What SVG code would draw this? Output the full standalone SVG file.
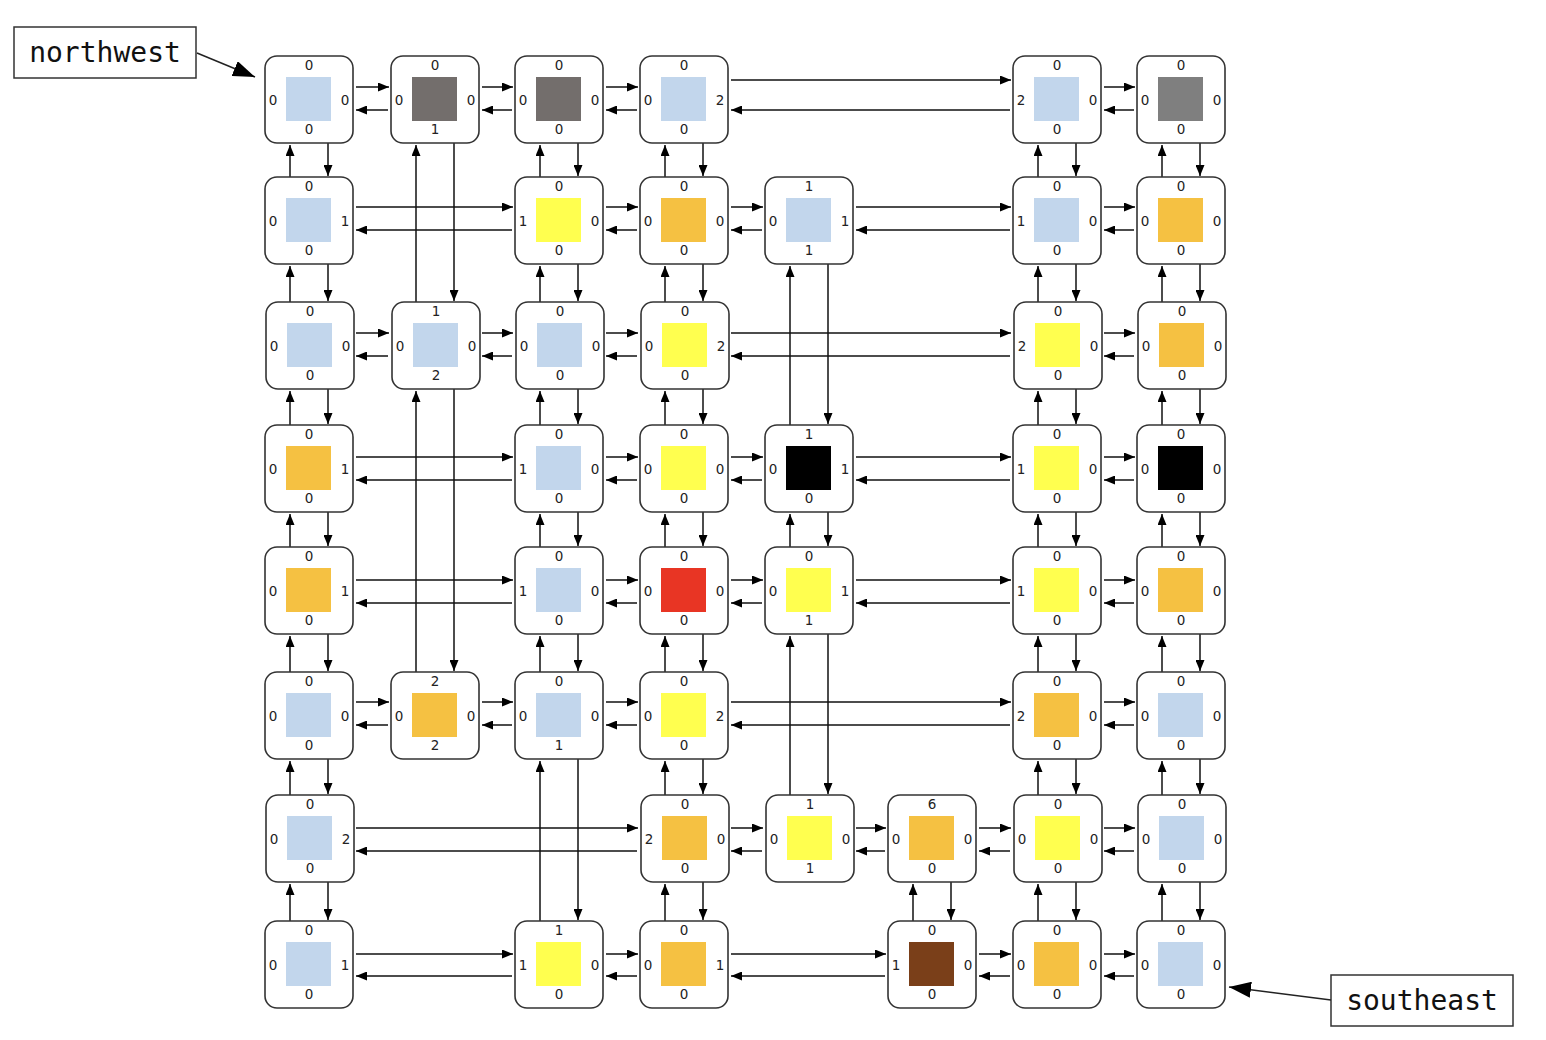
<svg xmlns="http://www.w3.org/2000/svg" width="1546" height="1040" viewBox="0 0 1546 1040">
<style>
.box{fill:#fff;stroke:#333;stroke-width:1.6}
.lb{font-family:"DejaVu Sans",sans-serif;font-size:13.5px;fill:#222;text-anchor:middle}
.call{font-family:"DejaVu Sans Mono",monospace;font-size:28px;fill:#111;text-anchor:middle}
.cbox{fill:#fff;stroke:#333;stroke-width:1.5}
.b{fill:#C2D6EC}.y{fill:#FFFF4F}.o{fill:#F5C142}.g{fill:#736E6C}.g2{fill:#7F7F7F}.r{fill:#E83524}.k{fill:#000}.br{fill:#7A3F19}
#connectors path{fill:none;stroke:#111;stroke-width:1.5;marker-end:url(#ah)}
.cl{fill:none;stroke:#222;stroke-width:1.5;marker-end:url(#big)}
</style>
<defs>
<marker id="ah" markerWidth="11" markerHeight="9" refX="11" refY="4.5" orient="auto" markerUnits="userSpaceOnUse"><path d="M0,0L11,4.5L0,9z" fill="#000"/></marker>
<marker id="big" markerWidth="22" markerHeight="16" refX="22" refY="8" orient="auto" markerUnits="userSpaceOnUse"><path d="M0,0L22,8L0,16z" fill="#000"/></marker>
</defs>
<rect width="1546" height="1040" fill="#fff"/>
<g id="connectors">
<path d="M356 87H389"/><path d="M388 110H356"/>
<path d="M482 87H513"/><path d="M512 110H482"/>
<path d="M606 87H638"/><path d="M637 110H606"/>
<path d="M731 80H1011"/><path d="M1010 110H731"/>
<path d="M1104 87H1135"/><path d="M1134 110H1104"/>
<path d="M356 207H513"/><path d="M512 230H356"/>
<path d="M606 207H638"/><path d="M637 230H606"/>
<path d="M731 207H763"/><path d="M762 230H731"/>
<path d="M856 207H1011"/><path d="M1010 230H856"/>
<path d="M1104 207H1135"/><path d="M1134 230H1104"/>
<path d="M356 333H389"/><path d="M388 356H356"/>
<path d="M482 333H513"/><path d="M512 356H482"/>
<path d="M606 333H638"/><path d="M637 356H606"/>
<path d="M731 333H1011"/><path d="M1010 356H731"/>
<path d="M1104 333H1135"/><path d="M1134 356H1104"/>
<path d="M356 457H513"/><path d="M512 480H356"/>
<path d="M606 457H638"/><path d="M637 480H606"/>
<path d="M731 457H763"/><path d="M762 480H731"/>
<path d="M856 457H1011"/><path d="M1010 480H856"/>
<path d="M1104 457H1135"/><path d="M1134 480H1104"/>
<path d="M356 580H513"/><path d="M512 603H356"/>
<path d="M606 580H638"/><path d="M637 603H606"/>
<path d="M731 580H763"/><path d="M762 603H731"/>
<path d="M856 580H1011"/><path d="M1010 603H856"/>
<path d="M1104 580H1135"/><path d="M1134 603H1104"/>
<path d="M356 702H389"/><path d="M388 725H356"/>
<path d="M482 702H513"/><path d="M512 725H482"/>
<path d="M606 702H638"/><path d="M637 725H606"/>
<path d="M731 702H1011"/><path d="M1010 725H731"/>
<path d="M1104 702H1135"/><path d="M1134 725H1104"/>
<path d="M356 828H638"/><path d="M637 851H356"/>
<path d="M731 828H763"/><path d="M762 851H731"/>
<path d="M856 828H886"/><path d="M885 851H856"/>
<path d="M979 828H1011"/><path d="M1010 851H979"/>
<path d="M1104 828H1135"/><path d="M1134 851H1104"/>
<path d="M356 954H513"/><path d="M512 976H356"/>
<path d="M606 954H638"/><path d="M637 976H606"/>
<path d="M731 954H886"/><path d="M885 976H731"/>
<path d="M979 954H1011"/><path d="M1010 976H979"/>
<path d="M1104 954H1135"/><path d="M1134 976H1104"/>
<path d="M290 177V145"/><path d="M328 143V176"/>
<path d="M290 302V266"/><path d="M328 264V301"/>
<path d="M290 425V391"/><path d="M328 389V424"/>
<path d="M290 547V514"/><path d="M328 512V546"/>
<path d="M290 672V636"/><path d="M328 634V671"/>
<path d="M290 795V761"/><path d="M328 759V794"/>
<path d="M290 921V884"/><path d="M328 882V920"/>
<path d="M416 302V145"/><path d="M454 143V301"/>
<path d="M416 672V391"/><path d="M454 389V671"/>
<path d="M540 177V145"/><path d="M578 143V176"/>
<path d="M540 302V266"/><path d="M578 264V301"/>
<path d="M540 425V391"/><path d="M578 389V424"/>
<path d="M540 547V514"/><path d="M578 512V546"/>
<path d="M540 672V636"/><path d="M578 634V671"/>
<path d="M540 921V761"/><path d="M578 759V920"/>
<path d="M665 177V145"/><path d="M703 143V176"/>
<path d="M665 302V266"/><path d="M703 264V301"/>
<path d="M665 425V391"/><path d="M703 389V424"/>
<path d="M665 547V514"/><path d="M703 512V546"/>
<path d="M665 672V636"/><path d="M703 634V671"/>
<path d="M665 795V761"/><path d="M703 759V794"/>
<path d="M665 921V884"/><path d="M703 882V920"/>
<path d="M790 425V266"/><path d="M828 264V424"/>
<path d="M790 547V514"/><path d="M828 512V546"/>
<path d="M790 795V636"/><path d="M828 634V794"/>
<path d="M913 921V884"/><path d="M951 882V920"/>
<path d="M1038 177V145"/><path d="M1076 143V176"/>
<path d="M1038 302V266"/><path d="M1076 264V301"/>
<path d="M1038 425V391"/><path d="M1076 389V424"/>
<path d="M1038 547V514"/><path d="M1076 512V546"/>
<path d="M1038 672V636"/><path d="M1076 634V671"/>
<path d="M1038 795V761"/><path d="M1076 759V794"/>
<path d="M1038 921V884"/><path d="M1076 882V920"/>
<path d="M1162 177V145"/><path d="M1200 143V176"/>
<path d="M1162 302V266"/><path d="M1200 264V301"/>
<path d="M1162 425V391"/><path d="M1200 389V424"/>
<path d="M1162 547V514"/><path d="M1200 512V546"/>
<path d="M1162 672V636"/><path d="M1200 634V671"/>
<path d="M1162 795V761"/><path d="M1200 759V794"/>
<path d="M1162 921V884"/><path d="M1200 882V920"/>
</g>
<g id="n00" transform="translate(265,56)"><rect class="box" width="88" height="87" rx="12"/><rect class="b" x="21" y="21" width="45" height="44"/><text class="lb" x="44" y="14">0</text><text class="lb" x="44" y="78">0</text><text class="lb" x="8" y="49">0</text><text class="lb" x="80" y="49">0</text></g>
<g id="n01" transform="translate(391,56)"><rect class="box" width="88" height="87" rx="12"/><rect class="g" x="21" y="21" width="45" height="44"/><text class="lb" x="44" y="14">0</text><text class="lb" x="44" y="78">1</text><text class="lb" x="8" y="49">0</text><text class="lb" x="80" y="49">0</text></g>
<g id="n02" transform="translate(515,56)"><rect class="box" width="88" height="87" rx="12"/><rect class="g" x="21" y="21" width="45" height="44"/><text class="lb" x="44" y="14">0</text><text class="lb" x="44" y="78">0</text><text class="lb" x="8" y="49">0</text><text class="lb" x="80" y="49">0</text></g>
<g id="n03" transform="translate(640,56)"><rect class="box" width="88" height="87" rx="12"/><rect class="b" x="21" y="21" width="45" height="44"/><text class="lb" x="44" y="14">0</text><text class="lb" x="44" y="78">0</text><text class="lb" x="8" y="49">0</text><text class="lb" x="80" y="49">2</text></g>
<g id="n06" transform="translate(1013,56)"><rect class="box" width="88" height="87" rx="12"/><rect class="b" x="21" y="21" width="45" height="44"/><text class="lb" x="44" y="14">0</text><text class="lb" x="44" y="78">0</text><text class="lb" x="8" y="49">2</text><text class="lb" x="80" y="49">0</text></g>
<g id="n07" transform="translate(1137,56)"><rect class="box" width="88" height="87" rx="12"/><rect class="g2" x="21" y="21" width="45" height="44"/><text class="lb" x="44" y="14">0</text><text class="lb" x="44" y="78">0</text><text class="lb" x="8" y="49">0</text><text class="lb" x="80" y="49">0</text></g>
<g id="n10" transform="translate(265,177)"><rect class="box" width="88" height="87" rx="12"/><rect class="b" x="21" y="21" width="45" height="44"/><text class="lb" x="44" y="14">0</text><text class="lb" x="44" y="78">0</text><text class="lb" x="8" y="49">0</text><text class="lb" x="80" y="49">1</text></g>
<g id="n12" transform="translate(515,177)"><rect class="box" width="88" height="87" rx="12"/><rect class="y" x="21" y="21" width="45" height="44"/><text class="lb" x="44" y="14">0</text><text class="lb" x="44" y="78">0</text><text class="lb" x="8" y="49">1</text><text class="lb" x="80" y="49">0</text></g>
<g id="n13" transform="translate(640,177)"><rect class="box" width="88" height="87" rx="12"/><rect class="o" x="21" y="21" width="45" height="44"/><text class="lb" x="44" y="14">0</text><text class="lb" x="44" y="78">0</text><text class="lb" x="8" y="49">0</text><text class="lb" x="80" y="49">0</text></g>
<g id="n14" transform="translate(765,177)"><rect class="box" width="88" height="87" rx="12"/><rect class="b" x="21" y="21" width="45" height="44"/><text class="lb" x="44" y="14">1</text><text class="lb" x="44" y="78">1</text><text class="lb" x="8" y="49">0</text><text class="lb" x="80" y="49">1</text></g>
<g id="n16" transform="translate(1013,177)"><rect class="box" width="88" height="87" rx="12"/><rect class="b" x="21" y="21" width="45" height="44"/><text class="lb" x="44" y="14">0</text><text class="lb" x="44" y="78">0</text><text class="lb" x="8" y="49">1</text><text class="lb" x="80" y="49">0</text></g>
<g id="n17" transform="translate(1137,177)"><rect class="box" width="88" height="87" rx="12"/><rect class="o" x="21" y="21" width="45" height="44"/><text class="lb" x="44" y="14">0</text><text class="lb" x="44" y="78">0</text><text class="lb" x="8" y="49">0</text><text class="lb" x="80" y="49">0</text></g>
<g id="n20" transform="translate(266,302)"><rect class="box" width="88" height="87" rx="12"/><rect class="b" x="21" y="21" width="45" height="44"/><text class="lb" x="44" y="14">0</text><text class="lb" x="44" y="78">0</text><text class="lb" x="8" y="49">0</text><text class="lb" x="80" y="49">0</text></g>
<g id="n21" transform="translate(392,302)"><rect class="box" width="88" height="87" rx="12"/><rect class="b" x="21" y="21" width="45" height="44"/><text class="lb" x="44" y="14">1</text><text class="lb" x="44" y="78">2</text><text class="lb" x="8" y="49">0</text><text class="lb" x="80" y="49">0</text></g>
<g id="n22" transform="translate(516,302)"><rect class="box" width="88" height="87" rx="12"/><rect class="b" x="21" y="21" width="45" height="44"/><text class="lb" x="44" y="14">0</text><text class="lb" x="44" y="78">0</text><text class="lb" x="8" y="49">0</text><text class="lb" x="80" y="49">0</text></g>
<g id="n23" transform="translate(641,302)"><rect class="box" width="88" height="87" rx="12"/><rect class="y" x="21" y="21" width="45" height="44"/><text class="lb" x="44" y="14">0</text><text class="lb" x="44" y="78">0</text><text class="lb" x="8" y="49">0</text><text class="lb" x="80" y="49">2</text></g>
<g id="n26" transform="translate(1014,302)"><rect class="box" width="88" height="87" rx="12"/><rect class="y" x="21" y="21" width="45" height="44"/><text class="lb" x="44" y="14">0</text><text class="lb" x="44" y="78">0</text><text class="lb" x="8" y="49">2</text><text class="lb" x="80" y="49">0</text></g>
<g id="n27" transform="translate(1138,302)"><rect class="box" width="88" height="87" rx="12"/><rect class="o" x="21" y="21" width="45" height="44"/><text class="lb" x="44" y="14">0</text><text class="lb" x="44" y="78">0</text><text class="lb" x="8" y="49">0</text><text class="lb" x="80" y="49">0</text></g>
<g id="n30" transform="translate(265,425)"><rect class="box" width="88" height="87" rx="12"/><rect class="o" x="21" y="21" width="45" height="44"/><text class="lb" x="44" y="14">0</text><text class="lb" x="44" y="78">0</text><text class="lb" x="8" y="49">0</text><text class="lb" x="80" y="49">1</text></g>
<g id="n32" transform="translate(515,425)"><rect class="box" width="88" height="87" rx="12"/><rect class="b" x="21" y="21" width="45" height="44"/><text class="lb" x="44" y="14">0</text><text class="lb" x="44" y="78">0</text><text class="lb" x="8" y="49">1</text><text class="lb" x="80" y="49">0</text></g>
<g id="n33" transform="translate(640,425)"><rect class="box" width="88" height="87" rx="12"/><rect class="y" x="21" y="21" width="45" height="44"/><text class="lb" x="44" y="14">0</text><text class="lb" x="44" y="78">0</text><text class="lb" x="8" y="49">0</text><text class="lb" x="80" y="49">0</text></g>
<g id="n34" transform="translate(765,425)"><rect class="box" width="88" height="87" rx="12"/><rect class="k" x="21" y="21" width="45" height="44"/><text class="lb" x="44" y="14">1</text><text class="lb" x="44" y="78">0</text><text class="lb" x="8" y="49">0</text><text class="lb" x="80" y="49">1</text></g>
<g id="n36" transform="translate(1013,425)"><rect class="box" width="88" height="87" rx="12"/><rect class="y" x="21" y="21" width="45" height="44"/><text class="lb" x="44" y="14">0</text><text class="lb" x="44" y="78">0</text><text class="lb" x="8" y="49">1</text><text class="lb" x="80" y="49">0</text></g>
<g id="n37" transform="translate(1137,425)"><rect class="box" width="88" height="87" rx="12"/><rect class="k" x="21" y="21" width="45" height="44"/><text class="lb" x="44" y="14">0</text><text class="lb" x="44" y="78">0</text><text class="lb" x="8" y="49">0</text><text class="lb" x="80" y="49">0</text></g>
<g id="n40" transform="translate(265,547)"><rect class="box" width="88" height="87" rx="12"/><rect class="o" x="21" y="21" width="45" height="44"/><text class="lb" x="44" y="14">0</text><text class="lb" x="44" y="78">0</text><text class="lb" x="8" y="49">0</text><text class="lb" x="80" y="49">1</text></g>
<g id="n42" transform="translate(515,547)"><rect class="box" width="88" height="87" rx="12"/><rect class="b" x="21" y="21" width="45" height="44"/><text class="lb" x="44" y="14">0</text><text class="lb" x="44" y="78">0</text><text class="lb" x="8" y="49">1</text><text class="lb" x="80" y="49">0</text></g>
<g id="n43" transform="translate(640,547)"><rect class="box" width="88" height="87" rx="12"/><rect class="r" x="21" y="21" width="45" height="44"/><text class="lb" x="44" y="14">0</text><text class="lb" x="44" y="78">0</text><text class="lb" x="8" y="49">0</text><text class="lb" x="80" y="49">0</text></g>
<g id="n44" transform="translate(765,547)"><rect class="box" width="88" height="87" rx="12"/><rect class="y" x="21" y="21" width="45" height="44"/><text class="lb" x="44" y="14">0</text><text class="lb" x="44" y="78">1</text><text class="lb" x="8" y="49">0</text><text class="lb" x="80" y="49">1</text></g>
<g id="n46" transform="translate(1013,547)"><rect class="box" width="88" height="87" rx="12"/><rect class="y" x="21" y="21" width="45" height="44"/><text class="lb" x="44" y="14">0</text><text class="lb" x="44" y="78">0</text><text class="lb" x="8" y="49">1</text><text class="lb" x="80" y="49">0</text></g>
<g id="n47" transform="translate(1137,547)"><rect class="box" width="88" height="87" rx="12"/><rect class="o" x="21" y="21" width="45" height="44"/><text class="lb" x="44" y="14">0</text><text class="lb" x="44" y="78">0</text><text class="lb" x="8" y="49">0</text><text class="lb" x="80" y="49">0</text></g>
<g id="n50" transform="translate(265,672)"><rect class="box" width="88" height="87" rx="12"/><rect class="b" x="21" y="21" width="45" height="44"/><text class="lb" x="44" y="14">0</text><text class="lb" x="44" y="78">0</text><text class="lb" x="8" y="49">0</text><text class="lb" x="80" y="49">0</text></g>
<g id="n51" transform="translate(391,672)"><rect class="box" width="88" height="87" rx="12"/><rect class="o" x="21" y="21" width="45" height="44"/><text class="lb" x="44" y="14">2</text><text class="lb" x="44" y="78">2</text><text class="lb" x="8" y="49">0</text><text class="lb" x="80" y="49">0</text></g>
<g id="n52" transform="translate(515,672)"><rect class="box" width="88" height="87" rx="12"/><rect class="b" x="21" y="21" width="45" height="44"/><text class="lb" x="44" y="14">0</text><text class="lb" x="44" y="78">1</text><text class="lb" x="8" y="49">0</text><text class="lb" x="80" y="49">0</text></g>
<g id="n53" transform="translate(640,672)"><rect class="box" width="88" height="87" rx="12"/><rect class="y" x="21" y="21" width="45" height="44"/><text class="lb" x="44" y="14">0</text><text class="lb" x="44" y="78">0</text><text class="lb" x="8" y="49">0</text><text class="lb" x="80" y="49">2</text></g>
<g id="n56" transform="translate(1013,672)"><rect class="box" width="88" height="87" rx="12"/><rect class="o" x="21" y="21" width="45" height="44"/><text class="lb" x="44" y="14">0</text><text class="lb" x="44" y="78">0</text><text class="lb" x="8" y="49">2</text><text class="lb" x="80" y="49">0</text></g>
<g id="n57" transform="translate(1137,672)"><rect class="box" width="88" height="87" rx="12"/><rect class="b" x="21" y="21" width="45" height="44"/><text class="lb" x="44" y="14">0</text><text class="lb" x="44" y="78">0</text><text class="lb" x="8" y="49">0</text><text class="lb" x="80" y="49">0</text></g>
<g id="n60" transform="translate(266,795)"><rect class="box" width="88" height="87" rx="12"/><rect class="b" x="21" y="21" width="45" height="44"/><text class="lb" x="44" y="14">0</text><text class="lb" x="44" y="78">0</text><text class="lb" x="8" y="49">0</text><text class="lb" x="80" y="49">2</text></g>
<g id="n63" transform="translate(641,795)"><rect class="box" width="88" height="87" rx="12"/><rect class="o" x="21" y="21" width="45" height="44"/><text class="lb" x="44" y="14">0</text><text class="lb" x="44" y="78">0</text><text class="lb" x="8" y="49">2</text><text class="lb" x="80" y="49">0</text></g>
<g id="n64" transform="translate(766,795)"><rect class="box" width="88" height="87" rx="12"/><rect class="y" x="21" y="21" width="45" height="44"/><text class="lb" x="44" y="14">1</text><text class="lb" x="44" y="78">1</text><text class="lb" x="8" y="49">0</text><text class="lb" x="80" y="49">0</text></g>
<g id="n65" transform="translate(888,795)"><rect class="box" width="88" height="87" rx="12"/><rect class="o" x="21" y="21" width="45" height="44"/><text class="lb" x="44" y="14">6</text><text class="lb" x="44" y="78">0</text><text class="lb" x="8" y="49">0</text><text class="lb" x="80" y="49">0</text></g>
<g id="n66" transform="translate(1014,795)"><rect class="box" width="88" height="87" rx="12"/><rect class="y" x="21" y="21" width="45" height="44"/><text class="lb" x="44" y="14">0</text><text class="lb" x="44" y="78">0</text><text class="lb" x="8" y="49">0</text><text class="lb" x="80" y="49">0</text></g>
<g id="n67" transform="translate(1138,795)"><rect class="box" width="88" height="87" rx="12"/><rect class="b" x="21" y="21" width="45" height="44"/><text class="lb" x="44" y="14">0</text><text class="lb" x="44" y="78">0</text><text class="lb" x="8" y="49">0</text><text class="lb" x="80" y="49">0</text></g>
<g id="n70" transform="translate(265,921)"><rect class="box" width="88" height="87" rx="12"/><rect class="b" x="21" y="21" width="45" height="44"/><text class="lb" x="44" y="14">0</text><text class="lb" x="44" y="78">0</text><text class="lb" x="8" y="49">0</text><text class="lb" x="80" y="49">1</text></g>
<g id="n72" transform="translate(515,921)"><rect class="box" width="88" height="87" rx="12"/><rect class="y" x="21" y="21" width="45" height="44"/><text class="lb" x="44" y="14">1</text><text class="lb" x="44" y="78">0</text><text class="lb" x="8" y="49">1</text><text class="lb" x="80" y="49">0</text></g>
<g id="n73" transform="translate(640,921)"><rect class="box" width="88" height="87" rx="12"/><rect class="o" x="21" y="21" width="45" height="44"/><text class="lb" x="44" y="14">0</text><text class="lb" x="44" y="78">0</text><text class="lb" x="8" y="49">0</text><text class="lb" x="80" y="49">1</text></g>
<g id="n75" transform="translate(888,921)"><rect class="box" width="88" height="87" rx="12"/><rect class="br" x="21" y="21" width="45" height="44"/><text class="lb" x="44" y="14">0</text><text class="lb" x="44" y="78">0</text><text class="lb" x="8" y="49">1</text><text class="lb" x="80" y="49">0</text></g>
<g id="n76" transform="translate(1013,921)"><rect class="box" width="88" height="87" rx="12"/><rect class="o" x="21" y="21" width="45" height="44"/><text class="lb" x="44" y="14">0</text><text class="lb" x="44" y="78">0</text><text class="lb" x="8" y="49">0</text><text class="lb" x="80" y="49">0</text></g>
<g id="n77" transform="translate(1137,921)"><rect class="box" width="88" height="87" rx="12"/><rect class="b" x="21" y="21" width="45" height="44"/><text class="lb" x="44" y="14">0</text><text class="lb" x="44" y="78">0</text><text class="lb" x="8" y="49">0</text><text class="lb" x="80" y="49">0</text></g>
<g id="northwest"><rect class="cbox" x="14" y="27" width="182" height="51"/><text class="call" x="105" y="62">northwest</text><path class="cl" d="M197 53L255 77"/></g>
<g id="southeast"><rect class="cbox" x="1331" y="975" width="182" height="51"/><text class="call" x="1422" y="1010">southeast</text><path class="cl" d="M1331 1000L1229 987"/></g>
</svg>
